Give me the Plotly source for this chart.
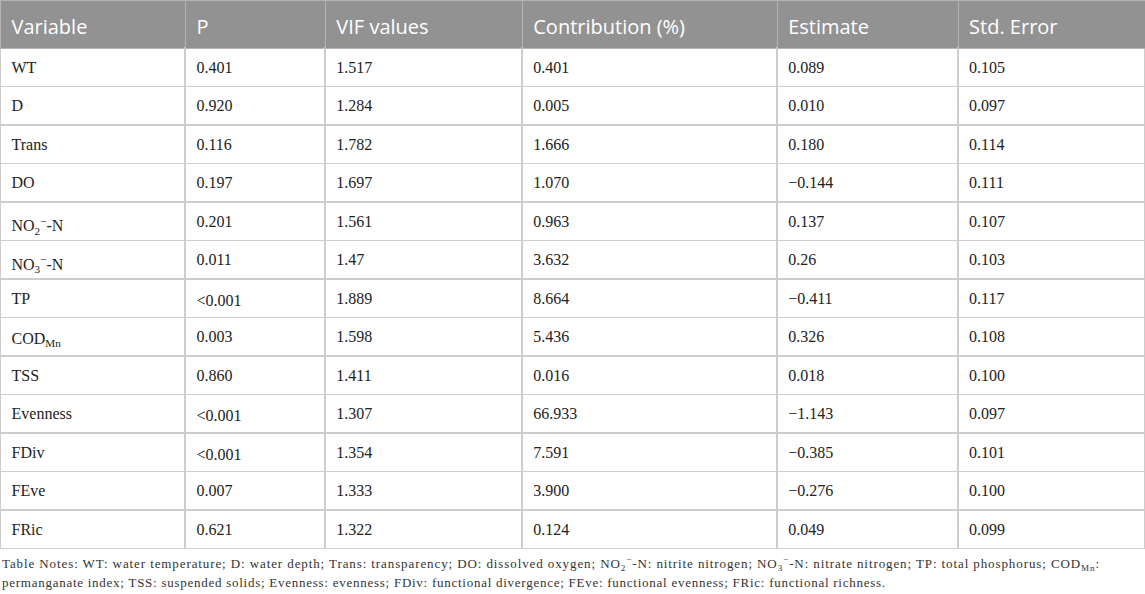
import plotly.graph_objects as go

# column headers
headers = ["Variable", "P", "VIF values", "Contribution (%)", "Estimate", "Std. Error"]

variables = ["WT", "D", "Trans", "DO",
             "NO<sub>2</sub><sup>−</sup>-N", "NO<sub>3</sub><sup>−</sup>-N",
             "TP", "COD<sub>Mn</sub>", "TSS", "Evenness", "FDiv", "FEve", "FRic"]
p_values = ["0.401", "0.920", "0.116", "0.197", "0.201", "0.011", "<0.001",
            "0.003", "0.860", "<0.001", "<0.001", "0.007", "0.621"]
vif_values = ["1.517", "1.284", "1.782", "1.697", "1.561", "1.47", "1.889",
              "1.598", "1.411", "1.307", "1.354", "1.333", "1.322"]
contribution = ["0.401", "0.005", "1.666", "1.070", "0.963", "3.632", "8.664",
                "5.436", "0.016", "66.933", "7.591", "3.900", "0.124"]
estimate = ["0.089", "0.010", "0.180", "−0.144", "0.137", "0.26", "−0.411",
            "0.326", "0.018", "−1.143", "−0.385", "−0.276", "0.049"]
std_error = ["0.105", "0.097", "0.114", "0.111", "0.107", "0.103", "0.117",
             "0.108", "0.100", "0.097", "0.101", "0.100", "0.099"]

notes = [
    "Table Notes: WT: water temperature; D: water depth; Trans: transparency; "
    "DO: dissolved oxygen; NO<sub>2</sub><sup>−</sup>-N: nitrite nitrogen; "
    "NO<sub>3</sub><sup>−</sup>-N: nitrate nitrogen; TP: total phosphorus; COD<sub>Mn</sub>:",
    "permanganate index; TSS: suspended solids; Evenness: evenness; "
    "FDiv: functional divergence; FEve: functional evenness; FRic: functional richness.",
]

W, H = 1145, 594
col_w = [185, 140, 197, 255, 181, 187]
head_h, row_h = 48, 38.5
# plotly tables have no vertical centering, so the text layers sit a bit lower
pad_x, head_dy, body_dy = 3.5, 10.5, 4.5
clear = "rgba(0,0,0,0)"
columns = [variables, p_values, vif_values, contribution, estimate, std_error]
blank_cols = [[""] * len(variables) for _ in columns]

fig = go.Figure()

# grid + fills
fig.add_trace(go.Table(
    domain=dict(x=[0, 1], y=[0, 1]),
    columnwidth=col_w,
    header=dict(values=[""] * 6, fill_color="#929292",
                line=dict(color="#b4b4b4", width=1), height=head_h),
    cells=dict(values=blank_cols, fill_color="white",
               line=dict(color="#cdcdcd", width=1.5), height=row_h),
))

text_w = col_w[:-1] + [col_w[-1] - pad_x]

# header text
fig.add_trace(go.Table(
    domain=dict(x=[pad_x / W, 1], y=[0, 1 - head_dy / H]),
    columnwidth=text_w,
    header=dict(values=headers, fill_color=clear, line=dict(color=clear),
                align="left", height=head_h,
                font=dict(family="Open Sans", size=20, color="white")),
    cells=dict(values=[[] for _ in columns], fill_color=clear, line=dict(color=clear)),
))

# body text
fig.add_trace(go.Table(
    domain=dict(x=[pad_x / W, 1], y=[0, 1 - body_dy / H]),
    columnwidth=text_w,
    header=dict(values=[""] * 6, fill_color=clear, line=dict(color=clear), height=head_h),
    cells=dict(values=columns, fill_color=clear, line=dict(color=clear),
               align="left", height=row_h,
               font=dict(family="Liberation Serif", size=16, color="#222222")),
))

# notes are justified in the source, fake it with letter spacing
note_y = [563.5, 582.5]
note_spacing = [0.9, 0.74]
for line, yy, sp in zip(notes, note_y, note_spacing):
    fig.add_annotation(
        text=f"<span style='letter-spacing:{sp}px'>{line}</span>",
        xref="paper", yref="paper",
        x=0, y=1 - yy / H,
        xanchor="left", yanchor="middle", showarrow=False,
        font=dict(family="Liberation Serif", size=13, color="#333333"),
    )

fig.update_layout(
    width=W, height=H,
    margin=dict(l=0, r=0, t=0, b=0),
    paper_bgcolor="white",
)

fig.write_html("out.html", config={"displayModeBar": False},
               post_script="document.body.style.margin='0px';")
